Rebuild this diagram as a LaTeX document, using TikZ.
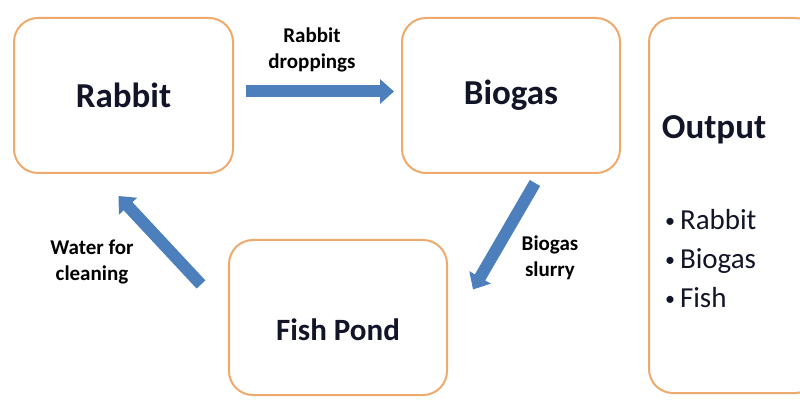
\documentclass[tikz,border=0pt]{standalone}
\usepackage{fontspec}
\setmainfont{Carlito}
\usetikzlibrary{positioning}
\usetikzlibrary{arrows.meta}
\definecolor{boxorange}{RGB}{238,170,108}
\definecolor{flowblue}{RGB}{76,127,188}
\definecolor{inkdark}{RGB}{18,20,40}
\tikzstyle{stage} = [rectangle, draw=boxorange, line width=2pt, rounded corners=24pt, minimum width=218pt, minimum height=155pt, inner sep=0pt, fill=white]
\tikzstyle{stagetext} = [font=\fontsize{35}{40}\selectfont\bfseries, text=inkdark]
\tikzstyle{flow} = [draw=flowblue, line width=12pt, -{Triangle[width=24pt,length=14pt]}]
\tikzstyle{flowtext} = [font=\fontsize{21}{26}\selectfont\bfseries, align=center, text=black]
\tikzstyle{listtext} = [font=\fontsize{29}{39}\selectfont, align=left, text=inkdark, inner sep=0pt]
\newcommand{\dotitem}{{\fontsize{20}{20}\selectfont\raisebox{2pt}{\textbullet}}\,}

\begin{document}
\begin{tikzpicture}[x=1pt, y=1pt]
  \clip (0,0) rectangle (800,399);
  \node[stage, minimum width=219pt] (rabbit) at (123.5,303.5) {};
  \node[stage] (biogas) [right=167pt of rabbit] {};
  \node[stage] (pond) [below right=65pt and -6pt of rabbit] {};
  \node[stage, minimum width=170pt, minimum height=375pt] (output) [right=27pt of biogas.north east, anchor=north west] {};
  % box texts
  \node[stagetext] (rabbittext) at (rabbit.center) {Rabbit};
  \node[stagetext] (biogastext) at (biogas.center) {Biogas};
  \node[stagetext, font=\fontsize{31}{36}\selectfont\bfseries] (pondtext) at ([yshift=-12pt]pond.center) {Fish Pond};
  \node[stagetext] (outputtext) at (714,269) {Output};
  \node[listtext, anchor=north west] (outlist) at (665,190) {\dotitem Rabbit\\ \dotitem Biogas\\ \dotitem Fish};
  % flows
  \draw[flow, shorten <=12pt, shorten >=7pt] ([yshift=4pt]rabbit.east) -- ([yshift=4pt]biogas.west);
  \draw[flow] ([shift={(24,-9)}]biogas.south) -- ([shift={(25,28)}]pond.east);
  \draw[flow] ([shift={(-27,33)}]pond.west) -- ([shift={(-5,-22)}]rabbit.south);
  \node[flowtext] (dropslabel) at (312,349) {Rabbit\\droppings};
  \node[flowtext] (waterlabel) at (92,137) {Water for\\cleaning};
  \node[flowtext] (slurrylabel) at (550,141) {Biogas\\slurry};
\end{tikzpicture}
\end{document}
